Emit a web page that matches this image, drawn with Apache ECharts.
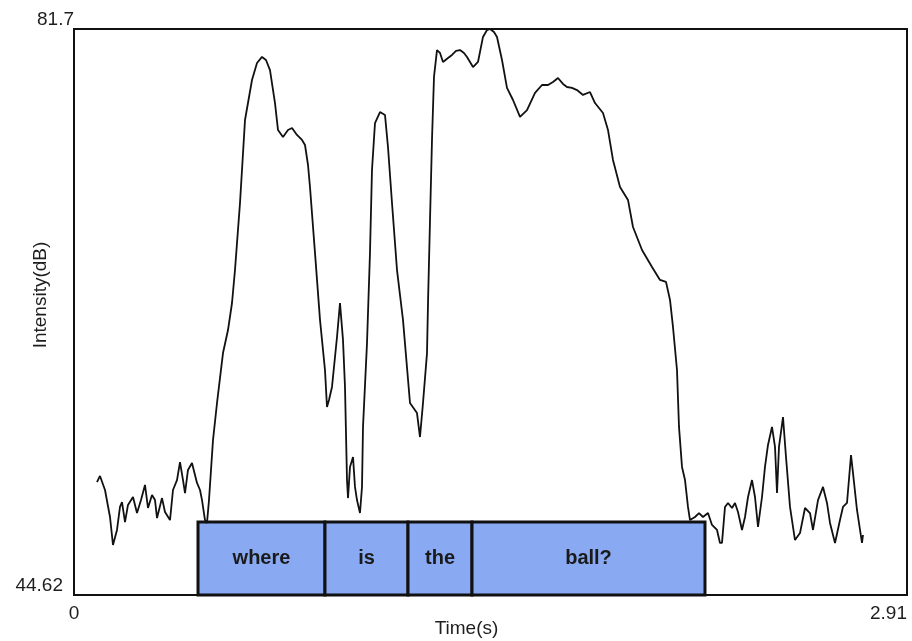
<!DOCTYPE html>
<html>
<head>
<meta charset="utf-8">
<script src="https://cdn.jsdelivr.net/npm/echarts@6/dist/echarts.min.js"></script>
<style>
  html, body { margin: 0; padding: 0; background: #fff; }
  #chart { width: 912px; height: 641px; }
</style>
</head>
<body>
<div id="chart"></div>
<script>
// Intensity contour of the utterance "where is the ball?"
const timeRange = [0, 2.91];          // seconds
const dbRange = [44.62, 81.7];        // dB

const times = [
  0.0803, 0.0908, 0.1083, 0.1258, 0.1362, 0.1502, 0.1607, 0.1677, 0.1782, 0.1886,
  0.2061, 0.2201, 0.2341, 0.2480, 0.2585, 0.2725, 0.2830, 0.2900, 0.3074, 0.3179,
  0.3354, 0.3458, 0.3598, 0.3703, 0.3808, 0.3878, 0.3982, 0.4122, 0.4297, 0.4402,
  0.4472, 0.4576, 0.4646, 0.4716, 0.4786, 0.4856, 0.4996, 0.5205, 0.5380, 0.5520,
  0.5624, 0.5799, 0.5974, 0.6218, 0.6393, 0.6568, 0.6707, 0.6847, 0.7022, 0.7127,
  0.7301, 0.7476, 0.7616, 0.7790, 0.7965, 0.8070, 0.8175, 0.8244, 0.8419, 0.8594,
  0.8768, 0.8838, 0.8908, 0.9013, 0.9188, 0.9292, 0.9397, 0.9467, 0.9537, 0.9572,
  0.9642, 0.9747, 0.9816, 0.9886, 0.9991, 1.0061, 1.0096, 1.0236, 1.0340, 1.0410,
  1.0515, 1.0690, 1.0864, 1.0969, 1.1109, 1.1284, 1.1493, 1.1738, 1.1982, 1.2087,
  1.2192, 1.2332, 1.2367, 1.2437, 1.2506, 1.2576, 1.2681, 1.2786, 1.2891, 1.3065,
  1.3205, 1.3345, 1.3485, 1.3624, 1.3729, 1.3834, 1.3939, 1.4113, 1.4288, 1.4428,
  1.4533, 1.4672, 1.4777, 1.4952, 1.5126, 1.5336, 1.5581, 1.5825, 1.6105, 1.6349,
  1.6559, 1.6733, 1.6908, 1.7083, 1.7222, 1.7397, 1.7572, 1.7781, 1.8026, 1.8201,
  1.8480, 1.8655, 1.8829, 1.9074, 1.9353, 1.9528, 1.9843, 2.0192, 2.0471, 2.0681,
  2.0821, 2.0925, 2.1065, 2.1135, 2.1240, 2.1345, 2.1449, 2.1519, 2.1694, 2.1834,
  2.1973, 2.2148, 2.2288, 2.2463, 2.2567, 2.2637, 2.2742, 2.2847, 2.2987, 2.3091,
  2.3196, 2.3336, 2.3441, 2.3546, 2.3685, 2.3790, 2.3895, 2.4035, 2.4139, 2.4244,
  2.4384, 2.4489, 2.4559, 2.4628, 2.4768, 2.4873, 2.5013, 2.5187, 2.5362, 2.5537,
  2.5711, 2.5816, 2.5991, 2.6166, 2.6305, 2.6410, 2.6585, 2.6759, 2.6864, 2.7004,
  2.7144, 2.7214, 2.7353, 2.7528, 2.7563
];

const intensity = [
  52.02, 52.42, 51.50, 49.73, 47.90, 48.88, 50.39, 50.71, 49.40, 50.52,
  51.04, 49.99, 50.84, 51.83, 50.32, 51.17, 50.84, 49.66, 50.97, 50.06,
  49.53, 51.50, 52.15, 53.33, 52.15, 51.30, 52.81, 53.27, 51.96, 51.50,
  50.84, 49.53, 49.34, 50.84, 52.81, 54.77, 57.20, 60.47, 61.98, 63.75,
  65.91, 70.30, 75.74, 78.36, 79.47, 79.87, 79.67, 79.01, 76.85, 75.08,
  74.62, 75.08, 75.21, 74.76, 74.43, 74.10, 72.79, 71.35, 67.03, 62.64,
  59.36, 56.94, 57.40, 58.25, 61.52, 63.75, 61.33, 58.25, 52.15, 50.97,
  53.01, 53.66, 51.70, 50.84, 49.99, 51.70, 55.63, 61.13, 67.03, 72.46,
  75.54, 76.26, 76.07, 73.97, 70.30, 65.91, 62.64, 57.20, 56.54, 54.97,
  57.20, 60.47, 63.75, 69.19, 74.43, 78.56, 80.32, 80.13, 79.54, 79.80,
  80.00, 80.26, 80.32, 80.13, 79.87, 79.54, 79.21, 79.54, 81.18, 81.63,
  81.70, 81.50, 81.18, 79.67, 77.84, 77.05, 75.94, 76.39, 77.51, 78.03,
  78.03, 78.23, 78.49, 78.10, 77.90, 77.84, 77.70, 77.38, 77.57, 76.85,
  76.20, 75.08, 73.12, 71.35, 70.50, 68.73, 67.22, 66.11, 65.26, 65.13,
  63.95, 62.18, 59.36, 55.63, 53.01, 52.15, 50.39, 49.53, 49.73, 49.99,
  49.73, 49.99, 49.21, 48.88, 48.03, 48.03, 50.39, 50.65, 50.32, 50.65,
  50.06, 48.88, 49.73, 51.04, 52.15, 51.04, 49.08, 51.04, 53.01, 54.45,
  55.63, 54.32, 51.30, 54.32, 56.28, 53.66, 50.39, 48.22, 48.68, 50.32,
  49.99, 48.88, 50.84, 51.70, 50.65, 49.34, 48.03, 49.53, 50.39, 50.65,
  53.79, 52.61, 50.19, 48.03, 48.55
];

// Word segmentation tier
const words = ['where', 'is', 'the', 'ball?'];
const wordStart = [0.4332, 0.8768, 1.1668, 1.3904];
const wordEnd = [0.8768, 1.1668, 1.3904, 2.2043];
const tierTop = 49.40;

const contour = times.map((t, i) => [t, intensity[i]]);
const segments = words.map((w, i) => [wordStart[i], wordEnd[i]]);

const chart = echarts.init(document.getElementById('chart'), null, { renderer: 'canvas' });

const fontFamily = 'Liberation Sans, Arial, sans-serif';
const labelFont = { fontFamily: fontFamily, color: '#1e1e1e' };

chart.setOption({
  backgroundColor: '#ffffff',
  animation: false,
  grid: {
    left: 74, right: 5, top: 29, bottom: 46,
    containLabel: false,
    outerBoundsMode: 'none',
    show: true,
    borderColor: '#111',
    borderWidth: 2,
    backgroundColor: 'transparent'
  },
  xAxis: {
    type: 'value',
    min: timeRange[0],
    max: timeRange[1],
    name: 'Time(s)',
    nameLocation: 'middle',
    nameGap: 24,
    nameMoveOverlap: false,
    nameTextStyle: Object.assign({ fontSize: 19, padding: [0, 48, 0, 0] }, labelFont),
    axisLine: { show: false },
    axisTick: { show: false },
    splitLine: { show: false },
    axisLabel: Object.assign({
      customValues: timeRange,
      fontSize: 19,
      margin: 9,
      alignMinLabel: 'center',
      alignMaxLabel: 'right',
      formatter: v => String(v)
    }, labelFont)
  },
  yAxis: {
    type: 'value',
    min: dbRange[0],
    max: dbRange[1],
    name: 'Intensity(dB)',
    nameLocation: 'middle',
    nameGap: 24,
    nameRotate: 90,
    nameMoveOverlap: false,
    nameTextStyle: Object.assign({ fontSize: 19, padding: [0, 0, 0, 34] }, labelFont),
    axisLine: { show: false },
    axisTick: { show: false },
    splitLine: { show: false },
    axisLabel: Object.assign({
      customValues: dbRange,
      fontSize: 19,
      margin: 0,
      verticalAlign: 'bottom',
      formatter: v => (v === dbRange[1] ? '{top|' + v + '}' : '{bot|' + v + '}'),
      rich: {
        top: { fontSize: 19, color: '#1e1e1e', fontFamily: fontFamily, padding: [0, 0, 0, 0] },
        bot: { fontSize: 19, color: '#1e1e1e', fontFamily: fontFamily, padding: [0, 11, 0, 0] }
      }
    }, labelFont)
  },
  series: [
    {
      type: 'custom',
      name: 'words',
      z: 2,
      data: segments,
      encode: { x: [0, 1] },
      renderItem: function (params, api) {
        const p0 = api.coord([api.value(0), tierTop]);
        const p1 = api.coord([api.value(1), dbRange[0]]);
        return {
          type: 'rect',
          shape: { x: p0[0], y: p0[1], width: p1[0] - p0[0], height: p1[1] - p0[1] },
          style: { fill: '#89aaf2', stroke: '#111', lineWidth: 3 },
          textContent: {
            style: {
              text: words[params.dataIndex],
              fill: '#1a1a1a',
              fontSize: 20,
              fontWeight: 'bold',
              fontFamily: fontFamily
            }
          },
          textConfig: { position: 'inside' }
        };
      }
    },
    {
      type: 'line',
      name: 'intensity',
      z: 3,
      data: contour,
      showSymbol: false,
      symbol: 'none',
      lineStyle: { color: '#111', width: 1.8 },
      clip: true
    }
  ]
});
</script>
</body>
</html>
